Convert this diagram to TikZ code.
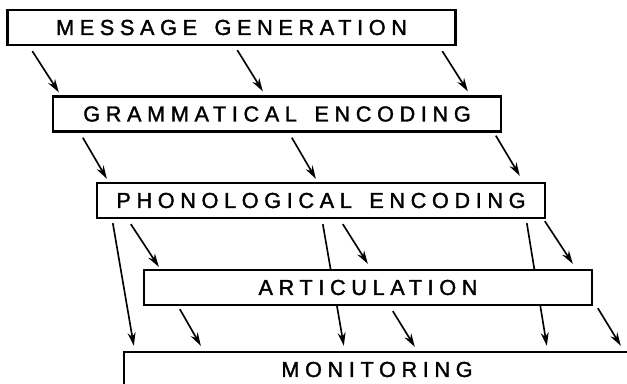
\documentclass[tikz,border=0pt]{standalone}
\usepackage{fontspec}
\newfontfamily\stagefont[LetterSpace=26,WordSpace=1.5,FakeBold=1.6]{Liberation Sans}
\usetikzlibrary{arrows.meta}

\begin{document}
\begin{tikzpicture}[x=0.3mm,y=-0.3mm,
    stage/.style={draw,line width=2pt,fill=white,inner sep=0pt,
      minimum width=134.4mm,minimum height=10.5mm,
      font=\stagefont\fontsize{18.5}{21}\selectfont},
    flow/.style={line width=1.4pt,-{Stealth[length=4mm,width=2.4mm]}}]
    \clip (0,0) rectangle (627,383);
    \node[stage] (msg) at(231.5,27.5) {MESSAGE GENERATION};
    \node[stage] (gram) at(277,114) {GRAMMATICAL ENCODING};
    \node[stage] (phon) at(321,200.5) {PHONOLOGICAL ENCODING};
    \node[stage,minimum width=151.8mm] (mon) at(377,369.5) {MONITORING};
    % phonology straight to monitoring, behind articulation
    \draw[flow] ([shift={(17,4)}]phon.south west)-- ([shift={(11,-5)}]mon.north west);
    \draw[flow] ([shift={(227,5)}]phon.south west)-- ([shift={(221,-5)}]mon.north west);
    \draw[flow] ([shift={(431,4)}]phon.south west)-- ([shift={(424,-5)}]mon.north west);
    \node[stage] (art) at(368,287.5) {ARTICULATION};
    \draw[flow] ([shift={(26,5)}]msg.south west)-- ([shift={(7,-3)}]gram.north west);
    \draw[flow] ([shift={(231,4)}]msg.south west)-- ([shift={(211,-4)}]gram.north west);
    \draw[flow] ([shift={(436,5)}]msg.south west)-- ([shift={(416,-4)}]gram.north west);
    \draw[flow] ([shift={(31,5)}]gram.south west)-- ([shift={(11,-3)}]phon.north west);
    \draw[flow] ([shift={(240,5)}]gram.south west)-- ([shift={(220,-3)}]phon.north west);
    \draw[flow] ([shift={(444,3)}]gram.south west)-- ([shift={(424,-6)}]phon.north west);
    \draw[flow] ([shift={(35,5)}]phon.south west)-- ([shift={(16,-2)}]art.north west);
    \draw[flow] ([shift={(247,5)}]phon.south west)-- ([shift={(225,-5)}]art.north west);
    \draw[flow] ([shift={(449,2)}]phon.south west)-- ([shift={(430,-5)}]art.north west);
    \draw[flow] ([shift={(37,3)}]art.south west)-- ([shift={(78,-5)}]mon.north west);
    \draw[flow] ([shift={(250,5)}]art.south west)-- ([shift={(292,-4)}]mon.north west);
    \draw[flow] ([shift={(455,2)}]art.south west)-- ([shift={(498,-5)}]mon.north west);
  \end{tikzpicture}
\end{document}
